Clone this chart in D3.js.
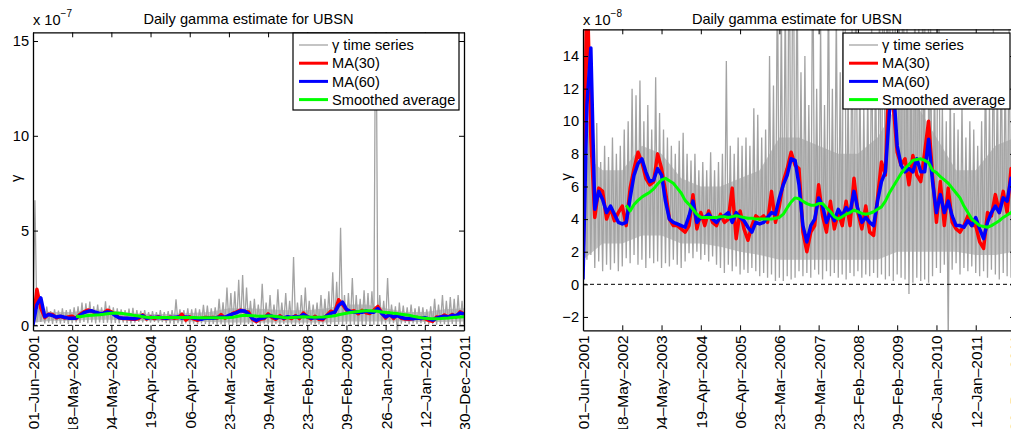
<!DOCTYPE html>
<html><head><meta charset="utf-8">
<script src="https://cdn.jsdelivr.net/npm/d3@7"></script>
<style>
body{margin:0;background:#fff}
svg{display:block}
text{font-family:"Liberation Sans",Arial,Helvetica,sans-serif;fill:#000}
</style>
</head><body>
<svg id="chart" width="1011" height="429"></svg>
<script>
// ---------------- data (values in units of 1e-8) ----------------
const tickLabels = ["01–Jun–2001","18–May–2002","04–May–2003","19–Apr–2004","06–Apr–2005",
  "23–Mar–2006","09–Mar–2007","23–Feb–2008","09–Feb–2009","26–Jan–2010","12–Jan–2011","30–Dec–2011"];
const step = 0.1; // sampling step in tick-intervals
const titleText = "Daily gamma estimate for UBSN";
const yLabel = "γ";
const legendLabels = ["γ time series","MA(30)","MA(60)","Smoothed average"];

const greyLow = [0,1.5,1.8,1.0,1.4,0.8,1.2,0.9,1.3,0.8,1.1,
  1.6,1.3,1.8,1.2,1.5,1.0,1.6,1.3,1.4,
  1.0,1.3,1.1,1.5,1.2,1.0,1.4,
  1.9,1.6,2.0,1.5,1.8,1.4,1.7,1.2,
  1.0,0.7,1.2,0.8,1.1,0.6,0.9,0.7,1.0,0.8,
  0.5,0.7,0.4,0.6,0.2,
  0.4,0.2,0.5,0.3,0.4,
  0.8,0.5,0.7,0.4,0.9,0.6,0.3,0.8,0.5,0.7,0.4,0.6,0.3,0.7,0.5,0.8,0.4,0.6,0.5,0.7,
  0.4,0.6,0.3,0.5,0.2,0.6,0.4,
  0.3,-0.6,0.1,0.4,0.2,0.3,0.1,0.5,
  1.0,0.7,1.2,-3.5,0.9,1.3,0.6,1.0,0.8,1.1,
  0.7,0.5,0.8,0.4,0.9,0.6,0.3,0.7,0.5,0.4,0.6];
const greyHigh = [66,10,8.5,9.9,7.5,8.5,7.8,9.0,8.0,8.5,9.5,
  10,12,11.6,12.5,10,11,9.5,12.7,10.5,
  9.5,9,8.5,8,8.8,9.3,8,
  7.6,8,7,7.5,7,8.1,7,7.5,
  8,13.7,8.5,8,9,8.5,9,8.5,10.8,10.4,
  9,9.5,14,12.2,20,
  17,18,24,26.5,20,
  13,14,11,22,12,16,11,19,12,17,13,36,12,16,20,13,11,12,16,14,
  18,28,23,51.5,16,17,25,
  16,14,18.5,17,18,200,16,13,
  25,11,10,12,10.5,9.5,11,9,10,9.5,
  8.5,10,14,11,16,13,15,14,16,13,15];
// dense core of the raw series (every 0.5 tick-interval)
const coreStep = 0.5;
const greyCoreLow  = [1.5,2.5,2.5,3,3,2.5,2.5,2.3,2,1.8,1.5,1.5,1.5,1.5,1.5,1.5,2,2,2,2,1.8,1.8,2];
const greyCoreHigh = [8,7,7,8.5,8,6.5,6,6,6.5,7,9,9,8.5,8,8,9,11,11,9,7,7,8.5,9];
const ma30 = [1,19,9,4.1,5.9,5.7,4.0,4.7,3.9,4.4,4.8,
  3.6,5.9,7.1,8.1,7.5,6.5,6.1,6.3,8.0,7.1,
  5.7,4.0,3.6,3.6,3.4,3.2,3.6,5.5,3.4,4.4,
  3.6,4.5,3.8,3.6,4.3,3.8,4.0,5.9,2.8,4.5,
  3.4,2.7,3.6,4.2,4.0,4.2,3.8,5.7,3.8,4.8,
  6.3,7.1,8.1,7.3,7.1,3.2,2.0,3.2,3.6,6.1,
  4.2,3.2,5.1,3.4,4.4,3.6,5.1,3.6,6.5,4.4,
  3.4,4.8,3.2,3.0,5.3,7.5,6.7,13.5,11,8.1,
  7.3,7.7,6.1,7.9,6.7,6.3,8.1,10.0,6.7,3.8,
  6.3,3.6,5.9,3.8,3.4,3.2,3.6,4.2,3.6,3.6,
  2.6,2.2,4.4,4.2,5.5,4.4,5.7,4.4,7.1,6.0];
const ma60 = [0.3,11,14.5,4.6,5.7,5.2,4.4,4.8,4.3,3.8,3.7,
  3.8,5.3,6.7,7.4,7.7,6.9,6.3,6.4,7.1,6.7,
  5.1,4.0,3.8,3.7,3.6,3.5,4.2,5.1,3.8,4.1,
  4.1,4.3,4.0,3.8,4.1,4.2,4.4,3.8,4.4,4.1,
  3.9,3.5,3.2,3.8,3.7,3.8,4.1,4.4,4.3,5.3,
  6.1,6.7,7.7,7.6,6.1,3.6,2.6,3.6,4.0,5.3,
  4.8,3.8,4.4,3.9,4.6,4.2,4.7,4.4,5.7,4.6,
  3.8,4.1,3.8,3.6,5.1,6.3,6.9,10.5,12.3,8.5,
  7.3,6.9,7.1,6.9,7.7,6.9,6.9,8.9,6.3,4.4,
  5.5,4.4,5.1,4.2,3.6,3.6,3.5,3.9,3.6,4.1,
  3.4,2.8,3.8,4.4,4.8,4.4,5.3,5.1,6.5,6.0];
const smoothStart = 1.1;
const smoothed = [4.85,4.5,4.9,5.15,5.35,5.5,5.65,5.85,6.15,6.4,
  6.5,6.35,6.2,5.9,5.6,5.15,4.9,4.6,4.3,4.1,
  4.1,4.1,4.1,4.1,4.15,4.15,4.1,4.15,4.2,4.15,
  4.1,4.05,4.05,4.0,4.0,4.0,4.0,4.0,4.05,4.1,
  4.3,4.7,5.05,5.3,5.25,5.1,4.95,4.85,4.85,4.95,
  4.95,4.7,4.45,4.15,4.0,4.15,4.3,4.4,4.55,4.45,
  4.35,4.3,4.35,4.45,4.6,4.75,5.1,5.6,6.0,6.4,
  6.8,7.1,7.35,7.6,7.65,7.7,7.6,7.45,7.0,6.85,
  6.6,6.4,6.2,5.9,5.6,5.3,4.8,4.4,4.0,3.8,
  3.6,3.55,3.5,3.6,3.75,3.9,4.1,4.25,4.4,4.5];

// ---------------- layout / style ----------------
const colors = {grey:"#a3a3a3", greyCore:"#c6c6c6", greyLegend:"#c4c4c4", red:"#ff0000", blue:"#0000ff", green:"#00ff00"};
const panels = [
  {x0:33, x1:464, y0:32.3, y1:330.3, yMin:-0.26, yMax:15.46, div:10, yTicks:[0,5,10,15], exp:"−7",
   legend:{x:293, y:33, w:166, h:77}},
  {x0:583, x1:1015, y0:29.3, y1:330.3, yMin:-2.82, yMax:15.64, div:1, yTicks:[-2,0,2,4,6,8,10,12,14], exp:"−8",
   legend:{x:843, y:33, w:167, h:76}}
];

const svg = d3.select("#chart");
const fs = 14.6;
const fsX = 15.5;

panels.forEach((p, pi) => {
  const x = d3.scaleLinear().domain([0, tickLabels.length - 1]).range([p.x0, p.x1]);
  const y = d3.scaleLinear().domain([p.yMin, p.yMax]).range([p.y1, p.y0]);
  const g = svg.append("g");
  const clipId = "clip" + pi;
  svg.append("defs").append("clipPath").attr("id", clipId)
    .append("rect").attr("x", p.x0).attr("y", p.y0).attr("width", p.x1 - p.x0).attr("height", p.y1 - p.y0);
  const plot = g.append("g").attr("clip-path", `url(#${clipId})`);

  const line = d3.line().x(d => x(d[0])).y(d => y(d[1] / p.div));

  // dense core of the raw series
  const area = d3.area().x((d, i) => x(i * coreStep)).y0(d => y(d[0] / p.div)).y1(d => y(d[1] / p.div));
  plot.append("path").attr("d", area(greyCoreLow.map((v, i) => [v, greyCoreHigh[i]])))
    .attr("fill", colors.greyCore).attr("stroke", "none");

  // grey raw series: alternate low / high samples
  const greyPts = [];
  greyLow.forEach((v, i) => {
    greyPts.push([i * step, v]);
    greyPts.push([i * step + step / 2, greyHigh[i]]);
  });
  plot.append("path").attr("d", line(greyPts)).attr("fill", "none")
    .attr("stroke", colors.grey).attr("stroke-width", 1.3);

  // zero line
  plot.append("line").attr("x1", p.x0).attr("x2", p.x1).attr("y1", y(0)).attr("y2", y(0))
    .attr("stroke", "#000").attr("stroke-width", 1).attr("stroke-dasharray", "4,3");

  const maLine = arr => line(arr.map((v, i) => [i * step, v]));
  plot.append("path").attr("d", maLine(ma30)).attr("fill", "none")
    .attr("stroke", colors.red).attr("stroke-width", 3.5).attr("stroke-linejoin", "round");
  plot.append("path").attr("d", maLine(ma60)).attr("fill", "none")
    .attr("stroke", colors.blue).attr("stroke-width", 3.5).attr("stroke-linejoin", "round");
  plot.append("path").attr("d", line(smoothed.map((v, i) => [smoothStart + i * step, v])))
    .attr("fill", "none").attr("stroke", colors.green).attr("stroke-width", 3).attr("stroke-linejoin", "round");

  // axes
  const tickIdx = d3.range(tickLabels.length);
  const fmtY = v => (v < 0 ? "−" + Math.abs(v) : String(v));

  const ax = g.append("g").attr("transform", `translate(0,${p.y1})`)
    .call(d3.axisBottom(x).tickValues(tickIdx).tickSize(-5).tickSizeOuter(0).tickFormat(i => tickLabels[i]));
  ax.selectAll("text").attr("transform", "rotate(-90)").attr("x", -5).attr("y", 0)
    .attr("dy", "0.35em").style("text-anchor", "end").style("font-size", fsX + "px");
  g.append("g").attr("transform", `translate(0,${p.y0})`)
    .call(d3.axisTop(x).tickValues(tickIdx).tickSize(-5).tickSizeOuter(0).tickFormat(""));
  const ay = g.append("g").attr("transform", `translate(${p.x0},0)`)
    .call(d3.axisLeft(y).tickValues(p.yTicks).tickSize(-5).tickSizeOuter(0).tickPadding(4).tickFormat(fmtY));
  ay.selectAll("text").style("font-size", fs + "px");
  g.append("g").attr("transform", `translate(${p.x1},0)`)
    .call(d3.axisRight(y).tickValues(p.yTicks).tickSize(-5).tickSizeOuter(0).tickFormat(""));
  g.selectAll(".domain").attr("stroke", "#000").attr("stroke-width", 1.3);
  g.selectAll(".tick line").attr("stroke", "#000");
  g.selectAll(".tick text").style("font-family", '"Liberation Sans",Arial,sans-serif');

  // title
  g.append("text").attr("x", (p.x0 + p.x1) / 2 - (pi === 1 ? 2 : 0)).attr("y", 23.5)
    .attr("text-anchor", "middle").style("font-size", fs + "px").text(titleText);
  // exponent
  const ex = g.append("text").attr("x", p.x0).attr("y", 25).style("font-size", fs + "px");
  ex.append("tspan").text("x 10");
  ex.append("tspan").attr("dy", -8).style("font-size", "10px").text(p.exp);
  // y label
  g.append("text").attr("transform", `translate(${p.x0 - 17},${(p.y0 + p.y1) / 2 - 3}) rotate(-90)`)
    .attr("text-anchor", "middle").attr("dy", "0.35em").style("font-size", fs + "px").text(yLabel);

  // legend
  const L = p.legend;
  const lg = g.append("g");
  lg.append("rect").attr("x", L.x).attr("y", L.y).attr("width", L.w).attr("height", L.h)
    .attr("fill", "#fff").attr("stroke", "#000").attr("stroke-width", 1.2);
  const lc = [colors.greyLegend, colors.red, colors.blue, colors.green];
  const lw = [2, 3, 3, 3];
  legendLabels.forEach((lab, k) => {
    const cy = L.y + 12 + k * 18.2;
    lg.append("line").attr("x1", L.x + 6).attr("x2", L.x + 35).attr("y1", cy).attr("y2", cy)
      .attr("stroke", lc[k]).attr("stroke-width", lw[k]);
    lg.append("text").attr("x", L.x + 39).attr("y", cy).attr("dy", "0.35em")
      .style("font-size", fs + "px").text(lab);
  });
});
</script>
</body></html>
